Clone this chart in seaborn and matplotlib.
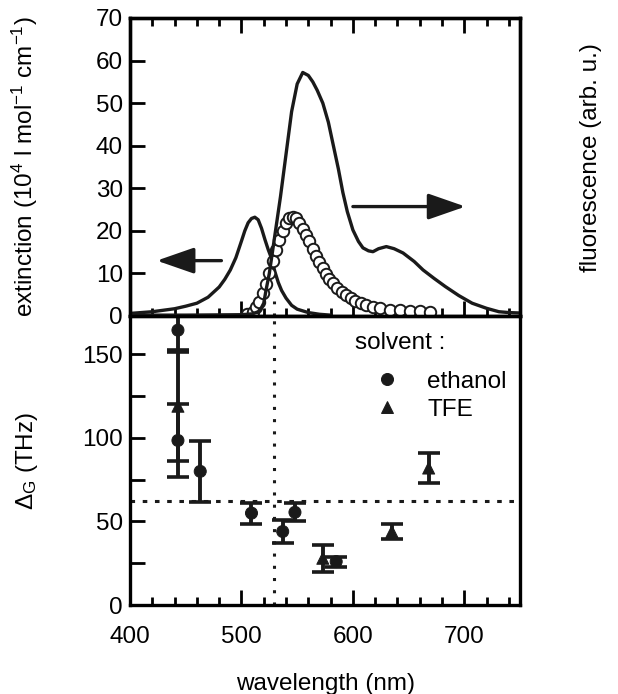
import pandas as pd
import seaborn as sns
import matplotlib.pyplot as plt
from matplotlib.ticker import MultipleLocator

# absorption spectrum (extinction, 10^4 l/mol/cm)
abs_wl = [400, 420, 440, 450, 460, 470, 480, 485, 490, 495, 500, 503, 506, 509,
          512, 515, 518, 521, 524, 527, 530, 533, 536, 540, 545, 550, 560, 570, 580]
abs_ext = [0.6, 1.0, 1.7, 2.3, 3.0, 4.4, 6.8, 8.6, 10.8, 13.7, 17.6, 20.0, 21.9, 22.9,
           23.2, 22.6, 20.6, 18.0, 15.6, 13.5, 10.4, 7.9, 6.0, 4.2, 2.5, 1.6, 0.8, 0.4, 0.2]

# fluorescence spectrum (arb. u., read on the left scale)
fl_wl = [400, 450, 500, 510, 515, 518, 520, 522, 525, 527, 530, 535, 540, 545, 550,
         555, 560, 564, 568, 573, 578, 582, 587, 591, 595, 600, 605, 609, 614, 618,
         623, 630, 637, 645, 655, 663, 673, 683, 695, 707, 720, 731, 740, 750]
fl_int = [0.2, 0.2, 0.3, 0.5, 1.0, 2.0, 3.0, 6.0, 10.0, 13.6, 19.0, 28.0, 38.0, 48.0, 54.5,
          57.2, 56.5, 55.0, 53.0, 50.0, 45.5, 40.6, 34.5, 29.0, 24.5, 20.2, 17.5, 16.0, 15.3, 15.1,
          15.8, 16.3, 15.8, 14.8, 12.8, 10.8, 8.8, 6.9, 4.8, 3.0, 1.8, 1.0, 0.8, 0.7]

# open circles in the upper panel
circ_wl = [505, 510, 513, 516, 519, 522, 525, 528, 531, 534, 537, 540, 543, 546, 549,
           552, 555, 558, 561, 564, 567, 570, 573, 576, 579, 582, 586, 590, 594, 598,
           602, 607, 612, 618, 624, 633, 642, 651, 660, 669]
circ_val = [0.4, 1.0, 2.0, 3.3, 5.5, 7.5, 10.0, 12.8, 15.5, 17.8, 20.0, 21.8, 22.9, 23.3, 23.0,
            21.9, 20.5, 19.0, 17.5, 15.8, 14.2, 12.6, 11.2, 9.8, 8.7, 7.7, 6.6, 5.7, 4.9, 4.2,
            3.6, 3.0, 2.5, 2.1, 1.8, 1.5, 1.3, 1.2, 1.1, 1.0]

# Delta_G data (THz)
eth_wl = [443, 443, 463, 509, 537, 548, 585]
eth_dg = [164.5, 98.5, 80, 55, 44, 55.5, 26]
eth_err = [12, 22, 18.3, 6.3, 7, 5.5, 3]
tfe_wl = [443, 573, 635, 668]
tfe_dg = [119, 28, 44, 82]
tfe_err = [32.5, 8, 4.5, 9]

cross_wl = 529
gap_dg = 62

FS = 17.5
LW = 2.4

sns.set_theme(style="ticks", rc={
    "axes.edgecolor": "black", "axes.linewidth": 2.4,
    "xtick.color": "black", "ytick.color": "black",
    "axes.labelcolor": "black", "text.color": "black",
})
plt.rcParams['font.family'] = ['Liberation Sans', 'DejaVu Sans']
plt.rcParams['mathtext.fontset'] = 'custom'
plt.rcParams['mathtext.rm'] = 'Liberation Sans'
plt.rcParams['mathtext.it'] = 'Liberation Sans:italic'
plt.rcParams['font.size'] = FS

fig = plt.figure(figsize=(6.18, 6.94), dpi=100)
ax1 = fig.add_axes([0.2104, 0.5447, 0.6311, 0.4294])
ax3 = fig.add_axes([0.2104, 0.1282, 0.6311, 0.4165], sharex=ax1)

# upper panel: spectra
sns.lineplot(x=abs_wl, y=abs_ext, ax=ax1, color="k", lw=LW, sort=False, estimator=None)
ax2 = ax1.twinx()
sns.lineplot(x=fl_wl, y=fl_int, ax=ax2, color="k", lw=LW, sort=False, estimator=None)
sns.scatterplot(x=circ_wl, y=circ_val, ax=ax1, marker="o", s=68, facecolor="white",
                edgecolor="k", linewidth=1.4, zorder=3)
ax1.axvline(cross_wl, ymax=0.05, color="k", lw=2.2, ls=(0, (1, 3)))

arrow = dict(arrowstyle="-|>,head_length=1.15,head_width=0.4", lw=LW, color="k",
             shrinkA=0, shrinkB=0, mutation_scale=20)
ax1.annotate("", xy=(424, 13), xytext=(482, 13), arrowprops=arrow)
ax1.annotate("", xy=(701, 25.7), xytext=(600, 25.7), arrowprops=arrow)

ax1.set_xlim(400, 750)
ax1.set_ylim(0, 70)
ax2.set_ylim(0, 70)
ax1.yaxis.set_major_locator(MultipleLocator(10))
ax1.xaxis.set_major_locator(MultipleLocator(100))
ax1.xaxis.set_minor_locator(MultipleLocator(20))
ax1.tick_params(axis="x", which="both", direction="in", top=True, bottom=True,
                labelbottom=False, width=2)
ax1.tick_params(axis="x", which="major", length=11)
ax1.tick_params(axis="x", which="minor", length=6)
ax1.tick_params(axis="y", direction="in", length=11, width=2, labelsize=FS, pad=5)
ax2.set_yticks([])
ax1.set_ylabel("extinction (10$^4$ l mol$^{-1}$ cm$^{-1}$)", fontsize=FS)
ax1.yaxis.set_label_coords(-0.23, 0.5)
ax2.set_ylabel("fluorescence (arb. u.)", fontsize=FS)
ax2.yaxis.set_label_coords(1.154, 0.53)

# lower panel: Delta_G
df = pd.DataFrame({
    "wl": eth_wl + tfe_wl,
    "dg": eth_dg + tfe_dg,
    "solvent": ["ethanol"] * len(eth_wl) + ["TFE"] * len(tfe_wl),
})
ax3.errorbar(eth_wl, eth_dg, yerr=eth_err, fmt="none", ecolor="k",
             elinewidth=2.8, capsize=8, capthick=2.6)
ax3.errorbar(tfe_wl, tfe_dg, yerr=tfe_err, fmt="none", ecolor="k",
             elinewidth=2.8, capsize=8, capthick=2.6)
sns.scatterplot(data=df, x="wl", y="dg", style="solvent",
                markers={"ethanol": "o", "TFE": "^"}, color="k", edgecolor="k",
                s=75, ax=ax3, zorder=3)
ax3.axvline(cross_wl, color="k", lw=2.2, ls=(0, (1, 3)))
ax3.axhline(gap_dg, color="k", lw=2.2, ls=(0, (1.5, 2.5)))

leg = ax3.get_legend()
handles = leg.legend_handles
labels = [t.get_text() for t in leg.texts]
leg.remove()
ax3.legend(handles, labels, frameon=False, loc="upper left",
           bbox_to_anchor=(0.577, 0.81), borderaxespad=0, borderpad=0,
           handlelength=2.6, handletextpad=0.37, labelspacing=0.24,
           fontsize=FS)
ax3.text(0.577, 0.9066, "solvent :", transform=ax3.transAxes, ha="left",
         va="center", fontsize=FS)

ax3.set_ylim(0, 173)
ax3.yaxis.set_major_locator(MultipleLocator(50))
ax3.yaxis.set_minor_locator(MultipleLocator(25))
ax3.tick_params(axis="y", which="both", direction="in", length=11, width=2,
                labelsize=FS, pad=5)
ax3.tick_params(axis="x", which="both", direction="in", top=False, bottom=True,
                width=2, labelsize=FS, pad=15)
ax3.tick_params(axis="x", which="major", length=11)
ax3.tick_params(axis="x", which="minor", length=6)
ax3.set_xlabel("wavelength (nm)", fontsize=FS)
ax3.xaxis.set_label_coords(0.5, -0.235)
ax3.set_ylabel(r"$\Delta_\mathrm{G}$ (THz)", fontsize=FS)
ax3.yaxis.set_label_coords(-0.23, 0.5)

fig.savefig("out.png", dpi=100)
